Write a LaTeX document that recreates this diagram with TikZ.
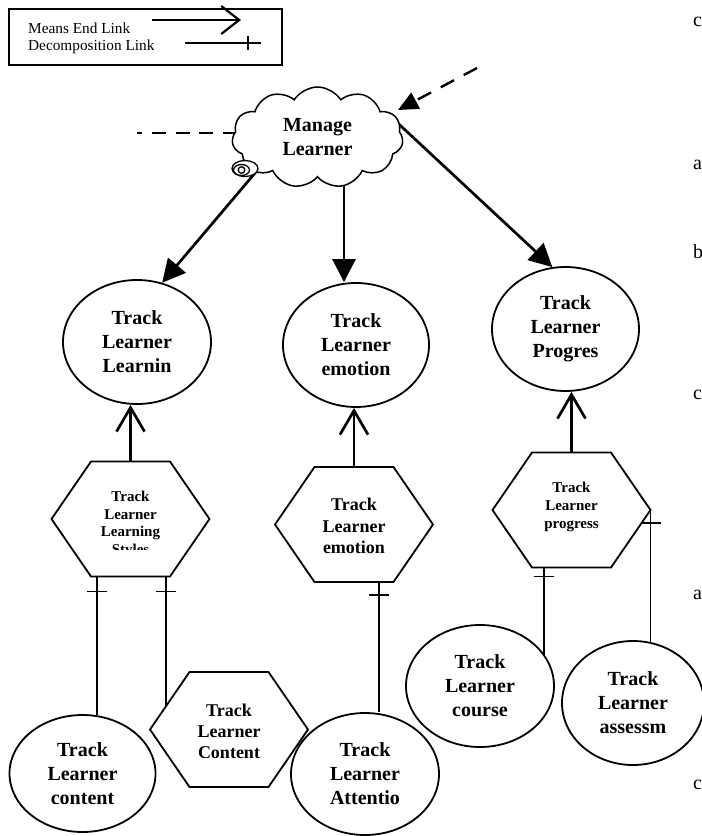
\documentclass[tikz,border=0pt]{standalone}
\usepackage{fontspec}
\setmainfont{Liberation Serif}
\usetikzlibrary{shapes.geometric,shapes.symbols,arrows.meta,calc,backgrounds,decorations.markings}
\begin{document}
\begin{tikzpicture}[x=1pt,y=-1pt,
  goal/.style={ellipse, draw, line width=1.8pt, inner sep=0pt, align=center, font=\bfseries\fontsize{20}{24}\selectfont},
  task/.style={rectangle, draw=none, inner sep=0pt, outer sep=0pt, minimum width=158pt, minimum height=115pt},
  hexline/.style={line width=1.8pt, line join=miter},
  meansend/.style={line width=2.7pt, -{Triangle[length=23pt,width=23pt]}},
  meansopen/.style={line width=2.7pt, -{Straight Barb[length=24pt,width=28pt]}},
  decomp/.style={line width=1.6pt, postaction={decorate, decoration={markings, mark=at position #1 with {\draw[line width=1.6pt] (0pt,-10pt) -- (0pt,10pt);}}}},
  sidechar/.style={anchor=west, inner sep=0pt, font=\fontsize{20}{24}\selectfont},
]
\useasboundingbox (0,0) rectangle (702,836);

% legend
\node[draw, line width=1.5pt, anchor=north west, minimum width=273pt, minimum height=56pt, inner sep=0pt] (legend) at (8,8) {};
\node[anchor=west, inner sep=0pt, font=\fontsize{15.3}{18}\selectfont] (lt1) at (28,28) {Means End Link};
\node[anchor=west, inner sep=0pt, font=\fontsize{15.3}{18}\selectfont] (lt2) at (28,47) {Decomposition Link};
\coordinate (la1) at (152,20);
\coordinate (la2) at (241,20);
\coordinate (ld1) at (185,43);
\coordinate (ld2) at (261,43);
\draw[line width=2.2pt, -{Straight Barb[length=18pt,width=28pt]}] (la1) -- (la2);
\draw[line width=1.4pt] (ld1) -- (ld2);
\draw[line width=1.4pt] ($(ld2)+(-13,-7)$) -- ($(ld2)+(-13,7)$);

% cloud
\node[cloud, cloud puffs=11, cloud puff arc=115, aspect=1.7, draw, fill=white, line width=1.5pt,
      minimum width=171pt, minimum height=101pt, inner sep=0pt, align=center,
      font=\bfseries\fontsize{20}{24}\selectfont] (cl) at (317.5,137.5) {Manage\\Learner};
\draw[line width=1.3pt, fill=white] ($(cl.center)+(-72.5,31)$) ellipse [x radius=13pt, y radius=8pt];
\draw[line width=1.3pt] ($(cl.center)+(-76,32.5)$) ellipse [x radius=8pt, y radius=5.5pt];
\draw[line width=1.3pt] ($(cl.center)+(-76,32.5)$) circle [radius=3.3pt];

% goals (ellipses)
\node[goal, minimum width=148pt, minimum height=124pt] (eL) at (137,342) {Track\\Learner\\Learnin};
\node[goal, minimum width=146pt, minimum height=124pt] (eE) at (356,345) {Track\\Learner\\emotion};
\node[goal, minimum width=147pt, minimum height=124pt] (eP) at (565.5,329) {Track\\Learner\\Progres};
\node[goal, minimum width=146pt, minimum height=117pt] (eC) at (82.5,773.5) {Track\\Learner\\content};
\node[goal, minimum width=148pt, minimum height=122pt] (eA) at (365,774) {Track\\Learner\\Attentio};
\node[goal, minimum width=148pt, minimum height=122pt] (eCo) at (480,686) {Track\\Learner\\course};
\node[goal, minimum width=142pt, minimum height=124pt] (eAs) at (633,703) {Track\\Learner\\assessm};

% tasks (hexagons)
\node[task] (hA) at (130.5,519) {};
\node[task] (hE) at (354,524.5) {};
\node[task] (hP) at (571.5,510) {};
\node[task] (hC) at (229,729.5) {};
\foreach \n in {hA,hE,hP,hC} {
  \coordinate (\n-tl) at ($(\n.north west)!.25!(\n.north east)$);
  \coordinate (\n-tr) at ($(\n.north west)!.75!(\n.north east)$);
  \coordinate (\n-br) at ($(\n.south west)!.75!(\n.south east)$);
  \coordinate (\n-bl) at ($(\n.south west)!.25!(\n.south east)$);
  \draw[hexline] (\n.west) -- (\n-tl) -- (\n-tr) -- (\n.east) -- (\n-br) -- (\n-bl) -- cycle;
}
\begin{scope}
  \clip ($(hA.north west)$) rectangle ($(hA.south east)+(0,-27)$);
  \node[align=center, inner sep=0pt, font=\bfseries\fontsize{15}{17.5}\selectfont] (hAt) at ($(hA.center)+(0,5.5)$) {Track\\Learner\\Learning\\Styles};
\end{scope}
\node[align=center, inner sep=0pt, font=\bfseries\fontsize{18}{21.5}\selectfont] (hEt) at ($(hE.center)+(0,1.5)$) {Track\\Learner\\emotion};
\node[align=center, inner sep=0pt, font=\bfseries\fontsize{15}{18}\selectfont] (hPt) at ($(hP.center)+(0,-3)$) {Track\\Learner\\progress};
\node[align=center, inner sep=0pt, font=\bfseries\fontsize{18}{21}\selectfont] (hCt) at ($(hC.center)+(0,1.5)$) {Track\\Learner\\Content};

% links from the cloud (behind the cloud)
\coordinate (dl) at (137,133);
\coordinate (m1) at ($(cl.center)+(26.5,12.5)$);
\begin{scope}[on background layer]
  \draw[meansend] ($(cl.center)+(-34.5,2.5)$) -- (eL.67);
  \draw[meansend] (m1) -- (m1 |- eE.north);
  \draw[meansend] ($(cl.center)+(70.5,-23.5)$) -- (eP.102);
  \draw[line width=2.4pt, dash pattern=on 14pt off 9.7pt, dash phase=8.7pt] (dl) -- ($(cl.center)+(-20,-4.5)$);
\end{scope}
\coordinate (dr) at (477,68);
\draw[line width=2.4pt, dash pattern=on 15pt off 11pt, -{Triangle[length=20pt,width=18pt]}] (dr) -- ($(cl.center)+(80.5,-27.5)$);

% means-end links task -> goal
\draw[meansopen] (hA.north) -- (hA.north |- eL.south);
\draw[meansopen] (hE.north) -- (hE.north |- eE.south);
\draw[meansopen] (hP.north) -- (hP.north |- eP.south);

% decomposition links
\coordinate (dA1) at ($(hA.south)+(-33.5,0)$);
\coordinate (dA2) at ($(hA.south)+(35.5,0)$);
\coordinate (dE) at ($(hE.south)+(25,0)$);
\coordinate (dP1) at ($(hP.south)+(-27.5,0)$);
\coordinate (hCe) at ($(hC.west)!0.405!(hC-tl)$);
\draw[decomp=15pt] (dA1) -- (dA1 |- eC.75.8);
\draw[decomp=15pt] (dA2) -- (dA2 |- hCe);
\draw[decomp=13pt] (dE) -- (dE |- eA.north);
\draw[decomp=9pt] (dP1) -- (dP1 |- eCo.25.6);
\draw[decomp=13pt] (hP.east) -- (hP.east |- eAs.73.8);

% cut-off letters at the right edge
\begin{scope}
  \clip (0,0) rectangle (702,836);
  \node[sidechar] (s1) at (693,22) {c};
  \node[sidechar] (s2) at (693,165) {a};
  \node[sidechar] (s3) at (693,252) {b};
  \node[sidechar] (s4) at (693,395) {c};
  \node[sidechar] (s5) at (693,595) {a};
  \node[sidechar] (s6) at (693,785) {c};
\end{scope}
\end{tikzpicture}
\end{document}
